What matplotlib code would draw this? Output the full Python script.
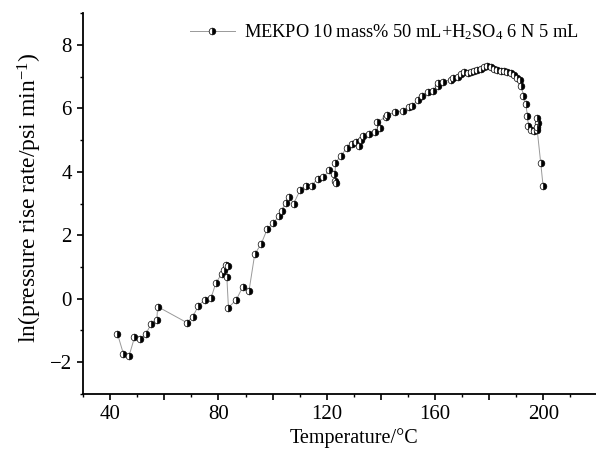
import numpy as np
import matplotlib
matplotlib.use("Agg")
import matplotlib.pyplot as plt
from matplotlib.ticker import MultipleLocator, FuncFormatter

plt.rcParams['font.family'] = ['Liberation Serif', 'DejaVu Serif']
plt.rcParams['mathtext.fontset'] = 'custom'
plt.rcParams['mathtext.rm'] = 'Liberation Serif'
plt.rcParams['mathtext.it'] = 'Liberation Serif:italic'

# temperature (deg C) and ln(pressure rise rate)
temp = [42.7, 44.9, 47.0, 49.0, 51.1, 53.2, 55.1, 57.2, 57.6, 68.3,
        70.5, 72.6, 75.0, 77.3, 79.1, 81.2, 82.1, 82.7, 83.5, 83.1,
        83.7, 86.6, 89.0, 91.3, 93.4, 95.8, 98.0, 100.2, 102.5, 103.3,
        104.8, 106.0, 107.8, 110.2, 112.3, 114.4, 116.6, 118.8, 120.9, 122.7,
        123.1, 123.3, 123.1, 125.2, 127.4, 129.4, 130.9, 132.0, 132.7, 133.4,
        135.5, 137.8, 139.6, 138.7, 141.8, 142.4, 145.2, 148.3, 150.4, 151.6,
        153.8, 155.1, 157.5, 159.3, 160.9, 161.2, 163.1, 165.8, 166.8, 168.6,
        169.5, 170.7, 172.0, 173.2, 174.4, 175.6, 176.9, 178.1, 179.3, 180.6,
        181.8, 183.0, 184.3, 185.5, 186.7, 188.0, 189.2, 190.4, 191.3, 191.9,
        192.6, 193.5, 194.1, 194.5, 195.4, 196.6, 197.8, 198.0, 197.8, 197.6,
        199.0, 199.9]
ln_rate = [-1.10, -1.73, -1.80, -1.22, -1.26, -1.11, -0.80, -0.68, -0.25, -0.75,
           -0.57, -0.22, -0.03, 0.03, 0.51, 0.78, 0.91, 1.07, 1.02, 0.69,
           -0.28, -0.03, 0.38, 0.25, 1.40, 1.73, 2.19, 2.38, 2.62, 2.75,
           3.03, 3.22, 3.00, 3.43, 3.55, 3.56, 3.78, 3.82, 4.05, 3.92,
           3.72, 3.64, 4.27, 4.50, 4.75, 4.88, 4.95, 4.81, 5.01, 5.12,
           5.19, 5.25, 5.38, 5.58, 5.72, 5.80, 5.87, 5.93, 6.04, 6.08,
           6.27, 6.39, 6.51, 6.56, 6.71, 6.79, 6.84, 6.90, 6.95, 7.00,
           7.09, 7.13, 7.12, 7.13, 7.18, 7.21, 7.25, 7.29, 7.32, 7.29,
           7.24, 7.21, 7.18, 7.16, 7.14, 7.11, 7.06, 6.97, 6.88, 6.71,
           6.39, 6.14, 5.77, 5.43, 5.32, 5.29, 5.32, 5.53, 5.69, 5.41,
           4.29, 3.54]

series_label = 'MEKPO 10 mass% 50 mL+H$_2$SO$_4$ 6 N 5 mL'

fig = plt.figure(figsize=(5.96, 4.54), dpi=100)
ax = fig.add_axes([0.1393, 0.1322, 0.8633, 0.839])

ax.plot(temp, ln_rate, color='#999999', lw=0.7,
        marker='o', markersize=4.8, fillstyle='right',
        markerfacecolor='black', markerfacecoloralt='white',
        markeredgecolor='black', markeredgewidth=0.5,
        label=series_label)

ax.set_xlim(30, 220)
ax.set_ylim(-3, 9)

# only left and bottom axes like the original
ax.spines['top'].set_visible(False)
ax.spines['right'].set_visible(False)
for s in ('left', 'bottom'):
    ax.spines[s].set_linewidth(1.3)

ax.xaxis.set_major_locator(MultipleLocator(20))
ax.xaxis.set_minor_locator(MultipleLocator(10))
ax.xaxis.set_major_formatter(FuncFormatter(lambda v, p: f'{v:.0f}' if v % 40 == 0 else ''))
ax.yaxis.set_major_locator(MultipleLocator(2))
ax.yaxis.set_minor_locator(MultipleLocator(1))
ax.yaxis.set_major_formatter(FuncFormatter(lambda v, p: f'{v:.0f}'.replace('-', '\u2212')))

ax.tick_params(which='major', direction='out', length=4.5, width=1.2, labelsize=15)
ax.tick_params(which='minor', direction='out', length=2.5, width=1.0)

ax.set_xlabel('Temperature/\u00b0C', fontsize=14.5, labelpad=3)
ax.xaxis.label.set_x(0.527)
ax.set_ylabel('ln(pressure rise rate/psi min$^{-1}$)', fontsize=17, labelpad=4)
ax.yaxis.label.set_y(0.516)

ax.legend(loc='upper left', bbox_to_anchor=(0.175, 1.02), frameon=False,
          fontsize=13.2, handlelength=2.5, handletextpad=0.45)

fig.savefig('out.png', dpi=100)
